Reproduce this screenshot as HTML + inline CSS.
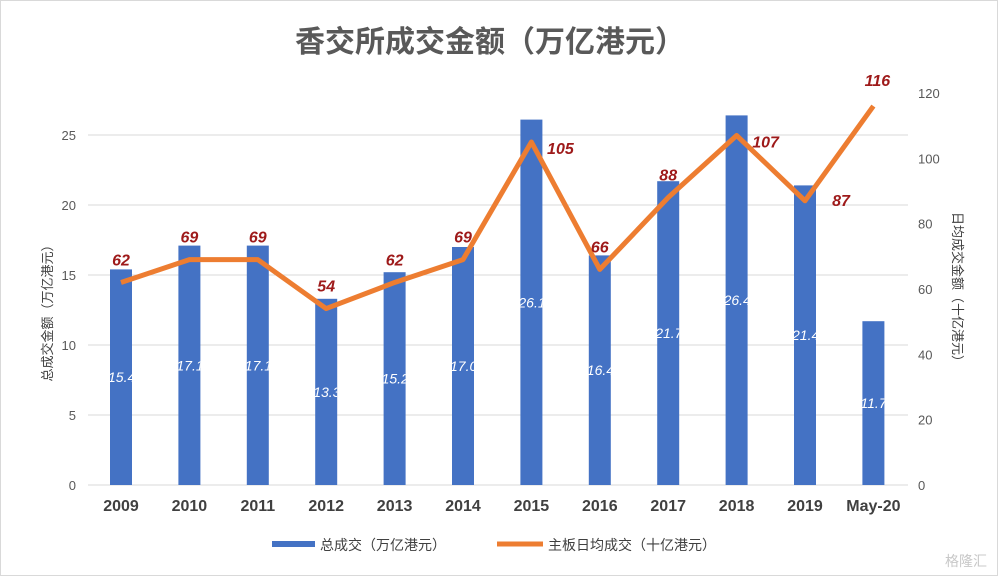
<!DOCTYPE html>
<html><head><meta charset="utf-8"><style>
html,body{margin:0;padding:0;background:#fff}
svg{display:block;font-family:"Liberation Sans","Noto Sans CJK SC",sans-serif}
</style></head><body>
<svg id="c" width="1000" height="579" viewBox="0 0 1000 579">
<rect x="0.5" y="0.5" width="997" height="575" fill="#fff" stroke="#d9d9d9"/>
<text x="490" y="52" text-anchor="middle" font-size="30" font-weight="bold" fill="#595959">香交所成交金额（万亿港元）</text>
<text transform="translate(52,310) rotate(-90)" text-anchor="middle" font-size="13" fill="#404040">总成交金额（万亿港元）</text>
<text transform="translate(953,290) rotate(90)" text-anchor="middle" font-size="13" fill="#404040">日均成交金额（十亿港元）</text>
<g id="grid"></g><g id="bars"></g><g id="line"></g><g id="labels"></g>
<g>
<rect x="272" y="541" width="43" height="6" fill="#4472c4"/>
<text x="320" y="550" font-size="14" fill="#404040">总成交（万亿港元）</text>
<line x1="497" y1="544" x2="543" y2="544" stroke="#ed7d31" stroke-width="5"/>
<text x="548" y="550" font-size="14" fill="#404040">主板日均成交（十亿港元）</text>
</g>
<text x="945" y="566" font-size="14" fill="#c8c8c8">格隆汇</text>
</svg>
<script>
const categories=["2009","2010","2011","2012","2013","2014","2015","2016","2017","2018","2019","May-20"];
const totalTurnover=[15.4,17.1,17.1,13.3,15.2,17.0,26.1,16.4,21.7,26.4,21.4,11.7];
const dailyTurnover=[62,69,69,54,62,69,105,66,88,107,87,116];
const leftTicks=[0,5,10,15,20,25];
const rightTicks=[0,20,40,60,80,100,120];
const NS="http://www.w3.org/2000/svg";
const x0=121,dx=68.4,yBase=485;
const xs=i=>x0+i*dx;
const yL=v=>yBase-v*14;
const yR=v=>yBase-v*(392/120);
function mk(t,a,p){const e=document.createElementNS(NS,t);for(const k in a)e.setAttribute(k,a[k]);p.appendChild(e);return e;}
const grid=document.getElementById('grid');
leftTicks.forEach(v=>{
 const l=mk('line',{x1:88,x2:908,y1:yL(v),y2:yL(v),stroke:'#d9d9d9','stroke-width':1},grid);
 
 
 const t=mk('text',{x:76,y:yL(v)+5,'text-anchor':'end','font-size':13,fill:'#595959'},grid);t.textContent=v;
 
 
});
rightTicks.forEach(v=>{
 const t=mk('text',{x:918,y:yR(v)+5,'font-size':13,fill:'#595959'},grid);t.textContent=v;
 
 
});
categories.forEach((c,i)=>{
 const t=mk('text',{x:xs(i),y:511,'text-anchor':'middle','font-size':16,'font-weight':'bold',fill:'#404040'},grid);t.textContent=c;
 
 
});
const bars=document.getElementById('bars');
const defs=mk('defs',{},bars);
totalTurnover.forEach((v,i)=>{
 const bx=xs(i)-11,by=yL(v),h=yBase-by;
 const r=mk('rect',{x:bx,y:by,width:22,height:h,fill:'#4472c4'},bars);
 
 
 const cp=mk('clipPath',{id:'cp'+i},defs);mk('rect',{x:bx-3,y:0,width:25,height:600},cp);
 const t=mk('text',{x:bx-2,y:(by+yBase)/2+5,'font-size':14,'font-style':'italic',fill:'#fff','clip-path':'url(#cp'+i+')'},bars);
 t.textContent=v.toFixed(1);
 
 
});
const line=document.getElementById('line');
const pl=mk('polyline',{points:dailyTurnover.map((v,i)=>xs(i)+','+yR(v)).join(' '),fill:'none',stroke:'#ed7d31','stroke-width':5,'stroke-linejoin':'round'},line);


const labs=document.getElementById('labels');
dailyTurnover.forEach((v,i)=>{
 let lx=xs(i),ly=yR(v)-17,anchor='middle';
 if(i===6||i===9){lx=xs(i)+29;ly=yR(v)+12;}
 if(i===10){lx=xs(i)+36;ly=yR(v)+5;}
 if(i===11){lx=xs(i)+4;ly=yR(v)-20;}
 const t=mk('text',{x:lx,y:ly,'text-anchor':anchor,'font-size':16,'font-style':'italic','font-weight':'bold',fill:'#9e1a1a'},labs);
 t.textContent=v;
 
 
});
</script>
</body></html>
